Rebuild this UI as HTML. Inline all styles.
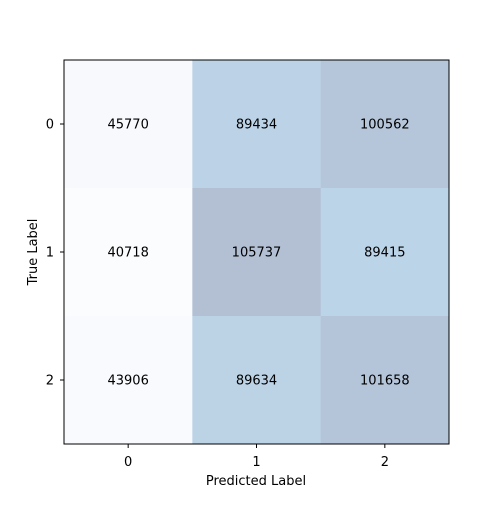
<!DOCTYPE html>
<html><head><meta charset="utf-8"><style>
body{margin:0;background:#fff;}
svg text{font-family:"DejaVu Sans","Liberation Sans",sans-serif;fill:#000;}
</style></head><body>
<svg width="500" height="500">
<g id="cells"></g>
<rect x="64" y="60" width="385" height="384" fill="none" stroke="#000" stroke-width="1"/>
<g id="ticks"></g>
<text x="256" y="485" font-size="13" text-anchor="middle">Predicted Label</text>
<text x="37" y="252" font-size="13" text-anchor="middle" transform="rotate(-90 37 252)">True Label</text>
</svg>
<script>
const categories = ["0","1","2"];
const row0 = [45770, 89434, 100562];
const row1 = [40718, 105737, 89415];
const row2 = [43906, 89634, 101658];
const matrix = [row0, row1, row2];
const NS = "http://www.w3.org/2000/svg";
const x0 = 64, y0 = 60, cw = 385/3, ch = 384/3;
function xPos(i){ return x0 + i*cw; }
function yPos(i){ return y0 + i*ch; }
function lerp(a,b,t){ return Math.round(a+(b-a)*t); }
function color(v){
  if (v < 60000) {
    let s = Math.max(0, Math.min(1, (v-40000)/6000));
    return "rgb("+lerp(251,247,s)+","+lerp(252,249,s)+","+lerp(254,253,s)+")";
  }
  let t = Math.max(0, Math.min(1, (v-89000)/(106000-89000)));
  return "rgb("+lerp(188,179,t)+","+lerp(212,192,t)+","+lerp(231,212,t)+")";
}
const cells = document.getElementById("cells");
const ticks = document.getElementById("ticks");
matrix.forEach((row, r) => {
  row.forEach((v, c) => {
    const rect = document.createElementNS(NS, "rect");
    rect.setAttribute("x", xPos(c)); rect.setAttribute("y", yPos(r));
    rect.setAttribute("width", cw+0.5); rect.setAttribute("height", ch+0.5);
    rect.setAttribute("fill", color(v));
    
    
    cells.appendChild(rect);
    const t = document.createElementNS(NS, "text");
    t.setAttribute("x", xPos(c)+cw/2); t.setAttribute("y", yPos(r)+ch/2+4.5);
    t.setAttribute("font-size", "13"); t.setAttribute("text-anchor", "middle");
    t.textContent = v;
    
    
    cells.appendChild(t);
  });
});
categories.forEach((lab, i) => {
  const xc = xPos(i)+cw/2, yc = yPos(i)+ch/2;
  const l1 = document.createElementNS(NS, "line");
  l1.setAttribute("x1", xc); l1.setAttribute("x2", xc); l1.setAttribute("y1", 444); l1.setAttribute("y2", 448);
  l1.setAttribute("stroke", "#000");
  
  
  ticks.appendChild(l1);
  const t1 = document.createElementNS(NS, "text");
  t1.setAttribute("x", xc); t1.setAttribute("y", 466); t1.setAttribute("font-size", "13"); t1.setAttribute("text-anchor", "middle");
  t1.textContent = lab;
  
  
  ticks.appendChild(t1);
  const l2 = document.createElementNS(NS, "line");
  l2.setAttribute("x1", 60); l2.setAttribute("x2", 64); l2.setAttribute("y1", yc); l2.setAttribute("y2", yc);
  l2.setAttribute("stroke", "#000");
  
  
  ticks.appendChild(l2);
  const t2 = document.createElementNS(NS, "text");
  t2.setAttribute("x", 54); t2.setAttribute("y", yc+4.5); t2.setAttribute("font-size", "13"); t2.setAttribute("text-anchor", "end");
  t2.textContent = lab;
  
  
  ticks.appendChild(t2);
});
</script>
</body></html>
